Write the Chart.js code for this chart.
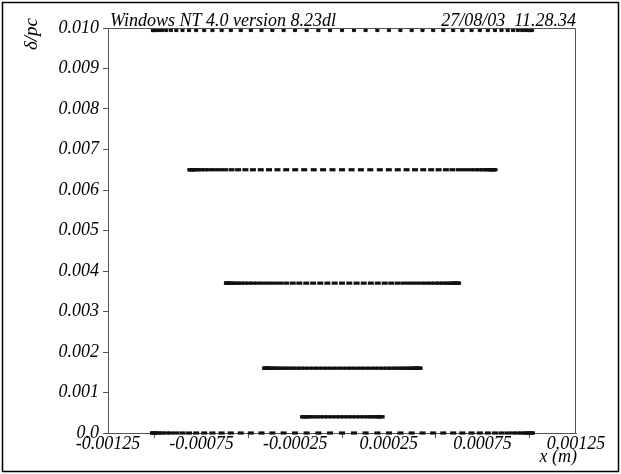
<!DOCTYPE html>
<html>
<head>
<meta charset="utf-8">
<script src="https://cdn.jsdelivr.net/npm/chart.js@4.4.1/dist/chart.umd.min.js"></script>
<style>
html, body { margin: 0; padding: 0; background: #fff; }
#wrap { width: 621px; height: 474px; }
</style>
</head>
<body>
<div id="wrap"><canvas id="grafica"></canvas></div>
<script>
// tick values and labels
let xTicks = [-0.00125, -0.001, -0.00075, -0.0005, -0.00025, 0, 0.00025, 0.0005, 0.00075, 0.001, 0.00125];
let xTickLabels = ['-0.00125', '', '-0.00075', '', '-0.00025', '', '0.00025', '', '0.00075', '', '0.00125'];
let yTicks = [0, 0.001, 0.002, 0.003, 0.004, 0.005, 0.006, 0.007, 0.008, 0.009, 0.010];
let yTickLabels = ['0.0', '0.001', '0.002', '0.003', '0.004', '0.005', '0.006', '0.007', '0.008', '0.009', '0.010'];

// y level of each row of points
let yLevels = [0.00995, 0.0065, 0.0037, 0.0016, 0.0004, 0.0];

// x positions
let xRow1 = [-0.001010, -0.001008, -0.001002, -0.000992, -0.000979, -0.000961, -0.000939, -0.000914, -0.000885,
  -0.000852, -0.000817, -0.000779, -0.000736, -0.000692, -0.000643, -0.000594, -0.000541, -0.000487, -0.000430,
  -0.000372, -0.000312, -0.000251, -0.000189, -0.000126, -0.000064, 0, 0.000064, 0.000126, 0.000189, 0.000251,
  0.000312, 0.000372, 0.000430, 0.000487, 0.000541, 0.000594, 0.000643, 0.000692, 0.000736, 0.000779, 0.000817,
  0.000852, 0.000885, 0.000914, 0.000939, 0.000961, 0.000979, 0.000992, 0.001002, 0.001008, 0.001015];
let xRow2 = [-0.000810, -0.000808, -0.000804, -0.000795, -0.000785, -0.000770, -0.000753, -0.000733, -0.000710,
  -0.000684, -0.000655, -0.000625, -0.000590, -0.000555, -0.000516, -0.000476, -0.000434, -0.000390, -0.000345,
  -0.000298, -0.000250, -0.000202, -0.000151, -0.000101, -0.000051, 0, 0.000051, 0.000101, 0.000151, 0.000202,
  0.000250, 0.000298, 0.000345, 0.000390, 0.000434, 0.000476, 0.000516, 0.000555, 0.000590, 0.000625, 0.000655,
  0.000684, 0.000710, 0.000733, 0.000753, 0.000770, 0.000785, 0.000795, 0.000804, 0.000808, 0.000815];
let xRow3 = [-0.000615, -0.000614, -0.000611, -0.000605, -0.000597, -0.000586, -0.000573, -0.000557, -0.000540,
  -0.000520, -0.000499, -0.000475, -0.000450, -0.000423, -0.000394, -0.000363, -0.000331, -0.000298, -0.000263,
  -0.000228, -0.000191, -0.000154, -0.000116, -0.000078, -0.000039, 0, 0.000039, 0.000078, 0.000116, 0.000154,
  0.000191, 0.000228, 0.000263, 0.000298, 0.000331, 0.000363, 0.000394, 0.000423, 0.000450, 0.000475, 0.000499,
  0.000520, 0.000540, 0.000557, 0.000573, 0.000586, 0.000597, 0.000605, 0.000611, 0.000614, 0.000620];
let xRow4 = [-0.000410, -0.000409, -0.000407, -0.000403, -0.000397, -0.000390, -0.000381, -0.000371, -0.000359,
  -0.000346, -0.000332, -0.000316, -0.000299, -0.000281, -0.000261, -0.000241, -0.000220, -0.000198, -0.000175,
  -0.000151, -0.000127, -0.000102, -0.000077, -0.000051, -0.000026, 0, 0.000026, 0.000051, 0.000077, 0.000102,
  0.000127, 0.000151, 0.000175, 0.000198, 0.000220, 0.000241, 0.000261, 0.000281, 0.000299, 0.000316, 0.000332,
  0.000346, 0.000359, 0.000371, 0.000381, 0.000390, 0.000397, 0.000403, 0.000407, 0.000409, 0.000415];
let xRow5 = [-0.000208, -0.000204, -0.000196, -0.000184, -0.000170, -0.000154, -0.000136, -0.000116, -0.000096,
  -0.000074, -0.000052, -0.000030, -0.000010, 0.000010, 0.000030, 0.000052, 0.000074, 0.000096, 0.000116,
  0.000136, 0.000154, 0.000170, 0.000184, 0.000196, 0.000204, 0.000212];
let xRow6 = xRow1;

let filas = [xRow1, xRow2, xRow3, xRow4, xRow5, xRow6];

let serif = '"Liberation Serif", "DejaVu Serif", serif';
let ejeColor = '#555';

let datasets = [];
for (i = 0; i < filas.length; i++) {
    let puntos = [];
    for (j = 0; j < filas[i].length; j++) {
        puntos.push({ x: filas[i][j], y: yLevels[i] });
    }
    datasets.push({
        data: puntos,
        showLine: false,
        pointStyle: i == 0 ? 'rect' : 'line',
        pointRadius: i == 0 ? 2.2 : 3,
        pointBorderWidth: i == 0 ? 1 : 3.2,
        borderColor: '#111',
        backgroundColor: '#111',
        pointHoverRadius: 0
    });
}

// texts and frames drawn by hand
const marco = {
    id: 'marco',
    afterDraw(chart) {
        let ctx = chart.ctx;
        let a = chart.chartArea;
        ctx.save();
        ctx.strokeStyle = '#000';
        ctx.lineWidth = 1.5;
        ctx.strokeRect(2.5, 2.5, 616, 469);

        ctx.strokeStyle = ejeColor;
        ctx.lineWidth = 1;
        ctx.beginPath();
        ctx.moveTo(a.left, a.top + 0.5);
        ctx.lineTo(a.right - 0.5, a.top + 0.5);
        ctx.lineTo(a.right - 0.5, a.bottom);
        ctx.stroke();

        ctx.fillStyle = '#000';
        ctx.font = 'italic 18px ' + serif;
        ctx.textBaseline = 'alphabetic';
        ctx.textAlign = 'left';
        ctx.fillText('Windows NT 4.0 version 8.23dl', 110, 26);
        ctx.textAlign = 'right';
        ctx.fillText('27/08/03  11.28.34', 576, 26);
        ctx.fillText('x (m)', 577, 462);

        ctx.translate(32, 34);
        ctx.rotate(-Math.PI / 2);
        ctx.textAlign = 'center';
        ctx.textBaseline = 'middle';
        ctx.font = 'italic 19px ' + serif;
        ctx.fillText('\u03b4/pc', 0, 0);
        ctx.restore();
    }
};

const ctx = document.getElementById('grafica').getContext('2d');
const grafica = new Chart(ctx, {
    type: 'scatter',
    data: { datasets: datasets },
    plugins: [marco],
    options: {
        responsive: true,
        maintainAspectRatio: false,
        animation: false,
        devicePixelRatio: 1,
        layout: { padding: { left: 0, top: 28, right: 45, bottom: 0 } },
        plugins: { legend: { display: false }, tooltip: { enabled: false } },
        elements: { point: { clip: false } },
        clip: false,
        scales: {
            x: {
                type: 'linear',
                min: -0.00125,
                max: 0.00125,
                afterBuildTicks: s => { s.ticks = xTicks.map(v => ({ value: v })); },
                afterFit: s => { s.height = 41; },
                ticks: {
                    autoSkip: false,
                    maxRotation: 0,
                    padding: -5,
                    color: '#000',
                    font: { family: serif, size: 18, style: 'italic' },
                    callback: (v, i) => xTickLabels[i]
                },
                grid: {
                    drawOnChartArea: false,
                    tickLength: 5,
                    tickColor: c => xTickLabels[c.index] ? 'rgba(0,0,0,0)' : ejeColor
                },
                border: { color: ejeColor, width: 1 }
            },
            y: {
                type: 'linear',
                min: 0,
                max: 0.010,
                afterBuildTicks: s => { s.ticks = yTicks.map(v => ({ value: v })); },
                afterFit: s => { s.width = 108; },
                ticks: {
                    autoSkip: false,
                    padding: 4,
                    color: '#000',
                    font: { family: serif, size: 18, style: 'italic' },
                    callback: (v, i) => yTickLabels[i]
                },
                grid: {
                    drawOnChartArea: false,
                    tickLength: 5,
                    tickColor: ejeColor
                },
                border: { color: ejeColor, width: 1 }
            }
        }
    }
});
</script>
</body>
</html>
